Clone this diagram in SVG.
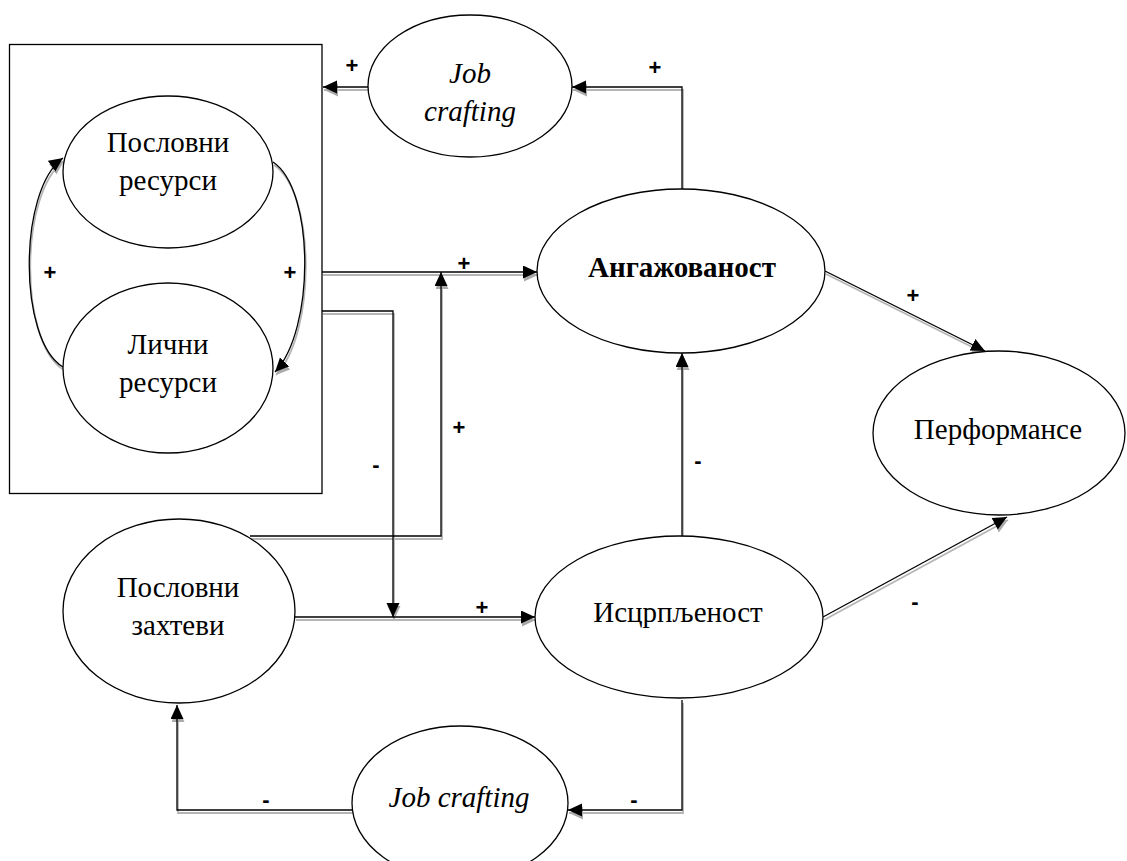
<svg xmlns="http://www.w3.org/2000/svg" width="1127" height="861" viewBox="0 0 1127 861">
<defs>
<marker id="ah" markerUnits="userSpaceOnUse" markerWidth="16" markerHeight="14" refX="14" refY="6.5" orient="auto">
<path d="M0,0 L14,6.5 L0,13 z" fill="#000"/>
</marker>
<marker id="ahs" markerUnits="userSpaceOnUse" markerWidth="16" markerHeight="14" refX="14" refY="6.5" orient="auto">
<path d="M0,0 L14,6.5 L0,13 z" fill="#aaa"/>
</marker>
</defs>
<style>
.node ellipse{fill:#fff;stroke:#000;stroke-width:1.3}
.box{fill:none;stroke:#000;stroke-width:1.3}
.sh path{fill:none;stroke:#b5b5b5;stroke-width:1.8;marker-end:url(#ahs)}
.ln path{fill:none;stroke:#000;stroke-width:1.3;marker-end:url(#ah)}
.serif{font-family:'Liberation Serif','Times New Roman',serif}
</style>
<rect id="resources-box" class="box" x="9.5" y="44.5" width="312.5" height="449"/>
<g id="connectors">
<g class="sh" transform="translate(1,3)">
<path d="M369,87 L323,87"/>
<path d="M682,189 L682,87 L572,87"/>
<path d="M322,272 L537,272"/>
<path d="M322,311 L393,311 L393,617"/>
<path d="M250,536 L441,536 L441,272"/>
<path d="M295,617 L535,617"/>
<path d="M682,536 L682,353"/>
<path d="M825,271 L985,351"/>
<path d="M823,617 L1007,517"/>
<path d="M682,700 L682,810 L568,810"/>
<path d="M352,810 L177,810 L177,705"/>
<path d="M273,162 C315,190 315,330 275,372"/>
<path d="M63,367 C18,340 18,190 63,158"/>
</g>
<g class="ln">
<path d="M369,87 L323,87"/>
<path d="M682,189 L682,87 L572,87"/>
<path d="M322,272 L537,272"/>
<path d="M322,311 L393,311 L393,617"/>
<path d="M250,536 L441,536 L441,272"/>
<path d="M295,617 L535,617"/>
<path d="M682,536 L682,353"/>
<path d="M825,271 L985,351"/>
<path d="M823,617 L1007,517"/>
<path d="M682,700 L682,810 L568,810"/>
<path d="M352,810 L177,810 L177,705"/>
<path d="M273,162 C315,190 315,330 275,372"/>
<path d="M63,367 C18,340 18,190 63,158"/>
</g>
<g id="labels" font-family="Liberation Sans, Arial, sans-serif" font-size="22" font-weight="bold" text-anchor="middle" fill="#000">
<text x="352" y="73">+</text>
<text x="655" y="75">+</text>
<text x="464" y="271">+</text>
<text x="50" y="280">+</text>
<text x="290" y="280">+</text>
<text x="376" y="472">-</text>
<text x="459" y="435">+</text>
<text x="698" y="468">-</text>
<text x="913" y="303">+</text>
<text x="482" y="615">+</text>
<text x="915" y="609">-</text>
<text x="266" y="807">-</text>
<text x="634" y="807">-</text>
</g>
</g>
<g class="serif" font-size="29" text-anchor="middle" fill="#000">
<g id="job-crafting-top" class="node">
<ellipse cx="470" cy="86" rx="102" ry="71"/>
<text font-style="italic" x="470" y="83">Job</text>
<text font-style="italic" x="470" y="121">crafting</text>
</g>
<g id="poslovni-resursi" class="node">
<ellipse cx="168" cy="172" rx="105" ry="76"/>
<text x="168" y="152">Пословни</text>
<text x="168" y="190">ресурси</text>
</g>
<g id="licni-resursi" class="node">
<ellipse cx="168" cy="368" rx="105" ry="85"/>
<text x="168" y="354">Лични</text>
<text x="168" y="392">ресурси</text>
</g>
<g id="angazovanost" class="node">
<ellipse cx="681" cy="271" rx="144" ry="82"/>
<text font-weight="bold" x="682" y="277">Ангажованост</text>
</g>
<g id="performanse" class="node">
<ellipse cx="999" cy="433" rx="126" ry="82"/>
<text x="998" y="439">Перформансе</text>
</g>
<g id="poslovni-zahtevi" class="node">
<ellipse cx="179" cy="611" rx="116" ry="92"/>
<text x="178" y="597">Пословни</text>
<text x="178" y="635">захтеви</text>
</g>
<g id="iscrpljenost" class="node">
<ellipse cx="679" cy="617" rx="144" ry="81"/>
<text x="678" y="622">Исцрпљеност</text>
</g>
<g id="job-crafting-bottom" class="node">
<ellipse cx="460" cy="803" rx="108" ry="77"/>
<text font-style="italic" x="459" y="807">Job crafting</text>
</g>
</g>
</svg>
